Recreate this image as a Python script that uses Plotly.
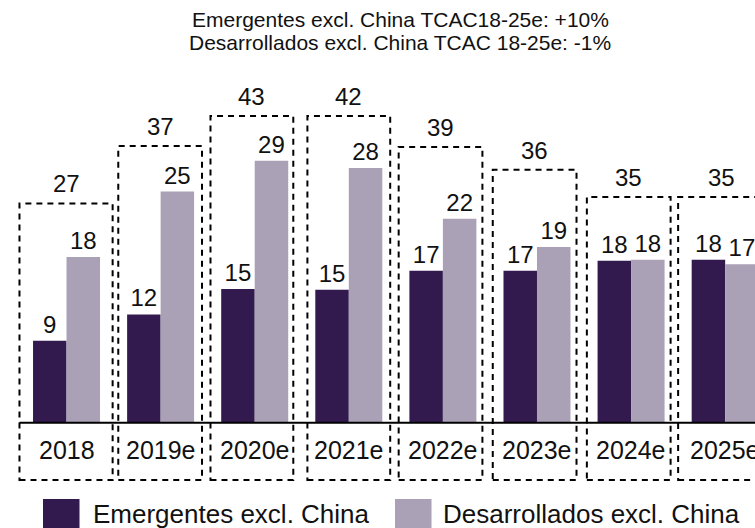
import plotly.graph_objects as go

# data
years = ["2018", "2019e", "2020e", "2021e", "2022e", "2023e", "2024e", "2025e"]
emergentes = [9.0, 11.9, 14.7, 14.6, 16.7, 16.7, 17.8, 17.9]
desarrollados = [18.2, 25.4, 28.8, 28.0, 22.4, 19.3, 17.9, 17.4]
totales = [27, 37, 43, 42, 39, 36, 35, 35]

# dashed group boxes (top in y units, left/right padding around group centre)
box_top = [24.1, 30.4, 33.7, 33.7, 30.3, 27.8, 24.8, 24.8]
box_left = [0.50, 0.45, 0.47, 0.44, 0.47, 0.47, 0.47, 0.50]
box_right = [0.49, 0.44, 0.41, 0.44, 0.42, 0.42, 0.42, 0.42]
box_bottom = -6.3

DARK = "#321a4f"
LIGHT = "#aaa1b7"
FONT = "Liberation Sans, Arial, sans-serif"

W, H = 755, 528
M_T, M_B = 60, 38

fig = go.Figure()

idx = list(range(len(years)))

fig.add_trace(go.Bar(
    x=idx, y=emergentes, name="Emergentes excl. China",
    marker=dict(color=DARK, line=dict(width=0)),
    text=[f"{v:.0f}" for v in emergentes], textposition="outside",
    textfont=dict(size=24, color="#111111", family=FONT),
    constraintext="none", cliponaxis=False,
))
fig.add_trace(go.Bar(
    x=idx, y=desarrollados, name="Desarrollados excl. China",
    marker=dict(color=LIGHT, line=dict(width=0)),
    text=[f"{v:.0f}" for v in desarrollados], textposition="outside",
    textfont=dict(size=24, color="#111111", family=FONT),
    constraintext="none", cliponaxis=False,
))

shapes = []
annotations = []

# baseline
shapes.append(dict(type="line", xref="x", yref="y", x0=-0.5, x1=7.5, y0=0, y1=0,
                   line=dict(color="black", width=2)))

for i, yr in enumerate(years):
    shapes.append(dict(
        type="rect", xref="x", yref="y",
        x0=i - box_left[i], x1=i + box_right[i], y0=box_bottom, y1=box_top[i],
        line=dict(color="black", width=2, dash="6px,5px"),
        fillcolor="rgba(0,0,0,0)", layer="above",
    ))
    xc = i + (box_right[i] - box_left[i]) / 2
    annotations.append(dict(
        x=xc, y=box_top[i], xref="x", yref="y", text=str(totales[i]),
        showarrow=False, yanchor="bottom", yshift=4,
        font=dict(size=24, color="#111111", family=FONT),
    ))
    annotations.append(dict(
        x=i, y=-3.0, xref="x", yref="y", text=yr, showarrow=False,
        font=dict(size=25, color="#111111", family=FONT),
    ))


# manual legend with large squares (pixel positions -> paper coords)
def px_x(px):
    return px / W


def px_y(py):
    return (H - M_B - py) / (H - M_T - M_B)


legend_items = [("Emergentes excl. China", DARK, 43, 91),
                ("Desarrollados excl. China", LIGHT, 395, 441)]
for label, col, sq_x, tx in legend_items:
    shapes.append(dict(type="rect", xref="paper", yref="paper",
                       x0=px_x(sq_x), x1=px_x(sq_x + 36.5),
                       y0=px_y(499), y1=px_y(540),
                       fillcolor=col, line=dict(width=0)))
    annotations.append(dict(
        x=px_x(tx), y=px_y(514), xref="paper", yref="paper", text=label,
        showarrow=False, xanchor="left", yanchor="middle",
        font=dict(size=26, color="#111111", family=FONT),
    ))

# two-line subtitle at the top
title_lines = ["Emergentes excl. China TCAC18-25e: +10%",
               "Desarrollados excl. China TCAC 18-25e: -1%"]
for line, ty in zip(title_lines, [19, 42]):
    annotations.append(dict(
        x=px_x(400), y=px_y(ty), xref="paper", yref="paper", text=line,
        showarrow=False, xanchor="center", yanchor="middle",
        font=dict(size=21, color="#111111", family=FONT),
    ))

fig.update_layout(
    width=W, height=H,
    margin=dict(l=0, r=0, t=M_T, b=M_B),
    paper_bgcolor="white", plot_bgcolor="white",
    barmode="group", bargap=0.288, bargroupgap=0,
    showlegend=False,
    xaxis=dict(range=[-0.707, 7.317], showgrid=False, zeroline=False,
               showticklabels=False, showline=False, fixedrange=True),
    yaxis=dict(range=[-7.40, 39.86], showgrid=False, zeroline=False,
               showticklabels=False, showline=False, fixedrange=True),
    shapes=shapes,
    annotations=annotations,
)

fig.write_html("out.html", config={"displayModeBar": False},
               post_script="document.body.style.margin='0px';")
